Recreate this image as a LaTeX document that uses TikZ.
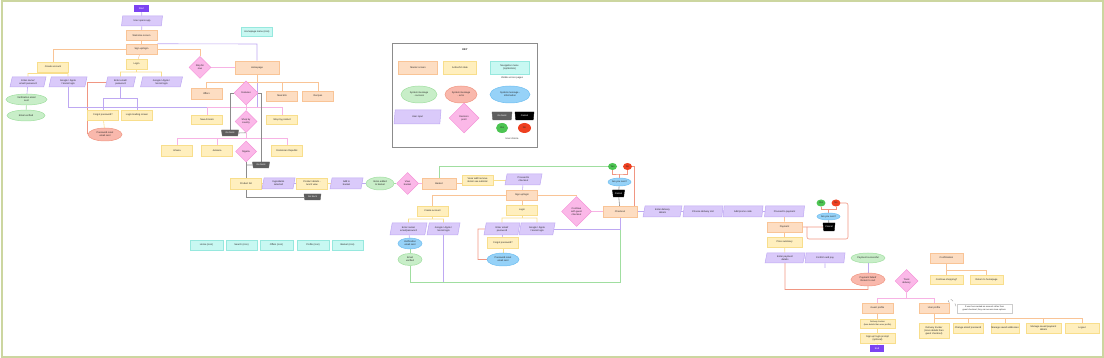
\documentclass[tikz,border=0pt]{standalone}
\usepackage{fontspec}
\setmainfont{Liberation Sans}
\usepackage{tikz}
\usetikzlibrary{shapes.geometric,positioning,calc,backgrounds}
\definecolor{peachfill}{RGB}{253,221,194}
\definecolor{peachline}{RGB}{249,196,150}
\definecolor{yellowfill}{RGB}{255,239,190}
\definecolor{yellowline}{RGB}{248,222,140}
\definecolor{cyanfill}{RGB}{200,248,242}
\definecolor{cyanline}{RGB}{150,232,222}
\definecolor{greenfill}{RGB}{200,238,200}
\definecolor{greenline}{RGB}{160,222,160}
\definecolor{redfill}{RGB}{249,184,172}
\definecolor{redline}{RGB}{240,150,130}
\definecolor{bluefill}{RGB}{150,210,248}
\definecolor{blueline}{RGB}{110,190,240}
\definecolor{purplefill}{RGB}{218,202,250}
\definecolor{purpleline}{RGB}{190,168,242}
\definecolor{pinkfill}{RGB}{251,184,232}
\definecolor{pinkline}{RGB}{244,146,216}
\definecolor{startfill}{RGB}{124,68,242}
\definecolor{framegreen}{RGB}{204,214,160}
\definecolor{yesgreen}{RGB}{76,196,82}
\definecolor{nored}{RGB}{238,64,32}
\definecolor{backgray}{RGB}{95,95,95}

\begin{document}
\begin{tikzpicture}[x=1pt, y=-1pt,
  every node/.style={font=\fontsize{2.4}{2.9}\selectfont, text=black!85, align=center, inner sep=0.5pt},
  screen/.style={draw=peachline, fill=peachfill, line width=0.5pt, minimum width=31pt, minimum height=10pt},
  uistate/.style={screen, draw=yellowline, fill=yellowfill},
  navmenu/.style={screen, draw=cyanline, fill=cyanfill},
  userinput/.style={trapezium, trapezium left angle=70, trapezium right angle=110, trapezium stretches body,
    draw=purpleline, fill=purplefill, line width=0.5pt, minimum width=37pt, minimum height=10pt},
  decision/.style={diamond, aspect=1, draw=pinkline, fill=pinkfill, line width=0.5pt, minimum size=22pt, inner sep=0pt},
  msgok/.style={ellipse, draw=greenline, fill=greenfill, line width=0.5pt, minimum width=36pt, minimum height=11pt, inner sep=0pt},
  msgerr/.style={msgok, draw=redline, fill=redfill},
  msginfo/.style={msgok, draw=blueline, fill=bluefill},
  gobackbtn/.style={trapezium, trapezium left angle=65, trapezium right angle=65, shape border rotate=180,
    trapezium stretches body, fill=backgray, draw=backgray, text=white, minimum width=17pt, minimum height=6pt, inner sep=0pt},
  cancelbtn/.style={gobackbtn, fill=black, draw=black},
  yesbtn/.style={ellipse, fill=yesgreen, minimum width=9pt, minimum height=7pt, inner sep=0pt},
  nobtn/.style={yesbtn, fill=nored},
  terminal/.style={fill=startfill, text=white, minimum width=15pt, minimum height=7pt},
  lpeach/.style={draw=peachline, line width=0.6pt},
  lyellow/.style={draw=yellowline, line width=0.6pt},
  lpurple/.style={draw=purpleline, line width=0.6pt},
  lpink/.style={draw=pinkline!70, line width=0.6pt},
  lgreen/.style={draw=greenline, line width=0.6pt},
  lred/.style={draw=redline, line width=0.6pt},
  lgray/.style={draw=black!45, line width=0.6pt}]

\useasboundingbox (0,0) rectangle (1104,358);
\draw[framegreen, line width=2pt] (1.5,1.5) rectangle (1102.5,356.5);

% onboarding
\node[terminal] (start) at (141.5,8.5) {Start};
\node[userinput, minimum width=41pt] (opens) at (142,21) {User opens app};
\node[screen] (welcome) at (141.5,35.5) {Welcome screen};
\node[screen] (signup) at (141.5,49) {Sign up/login};
\node[uistate, minimum width=21pt] (login) at (136.5,64) {Login};
\node[uistate] (create) at (53,67) {Create account};
\node[userinput, minimum width=36pt] (name) at (28,82) {Enter name/\\ email/ password};
\node[userinput, minimum width=38pt] (gsign) at (68,82) {Google / Apple\\ / Social login};
\node[msgok, minimum width=41pt] (verify) at (26.5,99.5) {Verification email\\ sent};
\node[msgok, minimum width=38pt] (verified) at (26,115.5) {Email verified};
\node[userinput, minimum width=30pt] (email) at (120.5,82) {Enter email/\\ password};
\node[userinput, minimum width=42pt] (glogin) at (161.5,82) {Google / Apple /\\ Social login};
\node[uistate] (forgot) at (103,115) {Forgot password?};
\node[uistate] (loading) at (137,115) {Login loading screen};
\node[msgerr, minimum width=34pt, minimum height=13pt] (reset) at (105,134.5) {Password reset\\ email sent};

% homepage and browsing
\node[navmenu, minimum height=9pt] (homemenu) at (257,31.5) {Homepage menu (icon)};
\node[decision] (skip) at (200,67.5) {Skip for\\ now};
\node[screen, minimum width=44pt, minimum height=13pt] (home) at (257,67.5) {Homepage};
\node[screen, minimum height=11pt] (offers) at (206.5,93.5) {Offers};
\node[decision, minimum size=24pt] (features) at (246,93) {Features};
\node[screen] (mealkits) at (282,96) {Meal kits};
\node[screen] (recipes) at (318,96) {Recipes};
\node[uistate, minimum height=9pt] (arrivals) at (207,119.5) {New Arrivals};
\node[decision] (country) at (246,121.5) {Shop by\\ country};
\node[uistate, minimum height=9pt] (byproduct) at (282,119.5) {Shop by product};
\node[gobackbtn] (back1) at (230,133) {Go back};
\node[uistate, minimum height=11pt] (ghana) at (177,150.5) {Ghana};
\node[uistate, minimum height=11pt] (jamaica) at (217,150.5) {Jamaica};
\node[decision, minimum size=21pt] (nigeria) at (246,151.5) {Nigeria};
\node[uistate, minimum height=11pt] (dominican) at (287,150.5) {Dominican Republic};
\node[gobackbtn] (back2) at (261,165) {Go back};
\node[uistate, minimum height=11pt] (plist) at (246,183.5) {Product list};
\node[userinput, minimum width=33pt, minimum height=11pt] (ingredients) at (278.5,183.5) {Ingredients\\ selected};
\node[uistate, minimum height=11pt] (details) at (312,183.5) {Product details -\\ lunch view};
\node[gobackbtn] (back3) at (312.5,197) {Go back};
\node[userinput, minimum width=33pt, minimum height=11pt] (addbasket) at (346.5,183.5) {Add to\\ basket};
\node[msgok, minimum width=28pt, minimum height=13pt] (added) at (380,183.5) {Items added\\ to basket};
\node[decision] (view) at (407.5,183.5) {View\\ basket};
\node[screen, minimum width=34pt, minimum height=11pt] (basket) at (439,183.5) {Basket};
\node[uistate] (subtotal) at (477.5,180.5) {View/ add/ remove\\ items/ see subtotal};
\node[userinput, minimum width=37pt, minimum height=11pt] (proceed) at (523.5,179.5) {Proceed to\\ checkout};

% basket sign up / login
\node[screen] (signup2) at (522,195) {Sign up/login};
\node[uistate] (login2) at (522,210) {Login};
\node[uistate] (create2) at (432.5,211) {Create account};
\node[userinput, minimum height=12pt] (name2) at (408.5,229) {Enter name/\\ email/password};
\node[userinput, minimum width=33pt, minimum height=12pt] (gsign2) at (443.5,229) {Google / Apple /\\ Social login};
\node[msginfo, minimum width=24pt] (verify2) at (410,243.5) {Verification\\ email sent};
\node[msgok, minimum width=24pt, minimum height=12pt] (verified2) at (410,259.5) {Email\\ verified};
\node[userinput, minimum width=36pt, minimum height=12pt] (email2) at (502,229) {Enter email/\\ password};
\node[userinput, minimum width=36pt, minimum height=12pt] (glogin2) at (537,229) {Google / Apple\\ / Social login};
\node[uistate, minimum height=11pt] (forgot2) at (503,242.5) {Forgot password?};
\node[msginfo, minimum width=32pt, minimum height=13pt] (reset2) at (503,259.5) {Password reset\\ email sent};
\node[decision, minimum size=30pt] (guest) at (576.5,211.5) {Continue\\ with guest\\ checkout};

% checkout
\node[screen, minimum width=34pt, minimum height=11pt] (checkout) at (620,211.5) {Checkout};
\node[yesbtn] (yes1) at (612.5,166.5) {Yes};
\node[nobtn] (no1) at (627.5,166.5) {No};
\node[msginfo, minimum width=23pt, minimum height=8pt] (sure1) at (619.5,182) {Are you sure?};
\node[cancelbtn, minimum width=12pt, minimum height=7pt] (cancel1) at (618.5,193.5) {Cancel};
\node[userinput, minimum width=39pt, minimum height=11pt] (delivery) at (662.5,211.5) {Enter delivery\\ details};
\node[userinput, minimum width=40pt, minimum height=11pt] (slot) at (703,211.5) {Choose delivery slot};
\node[userinput, minimum width=40pt, minimum height=11pt] (promo) at (743,211.5) {Add promo code};
\node[userinput, minimum width=40pt, minimum height=11pt] (topay) at (784.5,211.5) {Proceed to payment};
\node[screen, minimum width=35pt] (payment) at (784.5,227) {Payment};
\node[uistate, minimum width=35pt] (summary) at (784.5,242) {Price summary};
\node[userinput, minimum width=40pt] (paydetails) at (785,258) {Enter payment\\ details};
\node[userinput, minimum width=40pt] (confirm) at (825,258) {Confirm and pay};
\coordinate (confirmend) at (825,268);
\node[yesbtn] (yes2) at (821,203) {Yes};
\node[nobtn] (no2) at (836,203) {No};
\node[msginfo, minimum width=23pt, minimum height=7pt] (sure2) at (828.5,216.5) {Are you sure?};
\node[cancelbtn, minimum width=12pt, minimum height=8pt] (cancel2) at (829,227) {Cancel};
\node[msgok, minimum width=34pt, minimum height=10pt] (paid) at (868,258) {Payment successful};
\node[msgerr, minimum width=34pt, minimum height=13pt] (failed) at (868,279.5) {Payment failed/\\ Return to cart};

% after payment
\node[screen, minimum width=33pt] (confirmation) at (946.5,258) {Confirmation};
\node[uistate, minimum width=33pt, minimum height=9pt] (shopping) at (946.5,279.5) {Continue shopping?};
\node[uistate, minimum width=33pt, minimum height=9pt] (rethome) at (986.5,279.5) {Return to homepage};
\node[decision, minimum size=23pt] (track) at (906.5,281) {Track\\ delivery};
\node[screen] (gprofile) at (877.5,308) {Guest profile};
\node[screen, minimum width=30pt] (uprofile) at (934,308) {User profile};
\node[uistate, minimum width=35pt, minimum height=9pt, font=\fontsize{2.1}{2.6}\selectfont] (trackless) at (877.5,323.5) {Delivery tracker\\ (less details than user profile)};
\node[uistate, minimum width=35pt] (prompt) at (877.5,338) {Sign up/ login prompt\\ (optional)};
\node[terminal, minimum width=14pt] (endnode) at (877,348.5) {End};
\node[uistate, minimum width=30pt, minimum height=15pt] (trackmore) at (934,330.5) {Delivery tracker\\ (more details than\\ guest checkout)};
\node[uistate, minimum width=30pt] (chemail) at (968,328) {Change email/ password};
\node[uistate, minimum width=28pt] (addresses) at (1005,328) {Manage saved addresses};
\node[uistate, minimum width=35pt] (cards) at (1043.5,328) {Manage saved payment\\ details};
\node[uistate, minimum width=34pt] (logout) at (1082,328) {Logout};
\node[draw=black!20, line width=0.4pt, fill=white, minimum width=55pt, minimum height=9pt, font=\fontsize{2.1}{2.6}\selectfont] (note) at (984.5,308.5) {If user has created an account rather than\\ guest checkout, they can access more options.};

% navigation row
\node[navmenu, minimum width=33pt] (navhome) at (206.5,245) {Home (icon)};
\node[navmenu, minimum width=31pt] (navsearch) at (241.5,245) {Search (icon)};
\node[navmenu, minimum width=33pt] (navoffers) at (276.5,245) {Offers (icon)};
\node[navmenu, minimum width=32pt] (navprofile) at (313,245) {Profile (icon)};
\node[navmenu, minimum width=31pt] (navbasket) at (347.5,245) {Basket (icon)};

% key
\draw[black!45, line width=0.6pt] (392,43) rectangle (537,147);
\node[font=\bfseries\fontsize{2.6}{3}\selectfont] (keytitle) at (465,50) {KEY};
\node[screen, minimum width=39pt, minimum height=13pt] (kscreen) at (418,67.5) {Master screen};
\node[uistate, minimum width=33pt, minimum height=13pt] (kstate) at (460,67.5) {Action/UI state};
\node[navmenu, minimum width=39pt, minimum height=13pt] (knav) at (509.5,67.5) {Navigation menu\\ (top/bottom)};
\node (kvisible) at (512,78) {Visible across pages};
\node[msgok, minimum width=36pt, minimum height=17pt] (kok) at (419,94.5) {System message\\ - success};
\node[msgerr, minimum width=32pt, minimum height=17pt] (kerr) at (461,94.5) {System message\\ - error};
\node[msginfo, minimum width=40pt, minimum height=17pt] (kinfo) at (510,94.5) {System message -\\ information};
\node[userinput, minimum width=47pt, minimum height=14pt] (kinput) at (417.5,117) {User input};
\node[decision, minimum size=30pt] (kdecision) at (464,118) {Decision\\ point};
\node[gobackbtn, minimum width=20pt, minimum height=8pt] (kback) at (502,116) {Go back};
\node[cancelbtn, minimum width=19pt, minimum height=8pt] (kcancel) at (524.5,116) {Cancel};
\node[yesbtn, minimum width=12pt, minimum height=10pt] (kyes) at (502,128) {Yes};
\node[nobtn, minimum width=13pt, minimum height=10pt] (kno) at (524.5,128) {No};
\node (kchoice) at (512,139) {User choice};

\begin{scope}[on background layer]
  % onboarding links
  \draw[lpurple] (start) -- (opens);
  \draw[lpurple] (opens) -- (welcome);
  \draw[lpeach] (welcome) -- (signup);
  \draw[lpeach] (signup) -- (login);
  \draw[lpeach] (signup.west) -| (create.north);
  \draw[lyellow] (create.south) -- (53,73.5);
  \draw[lyellow] (name.north) |- (68,73.5) -- (gsign.north);
  \draw[lpurple] (name) -- (verify);
  \draw[lgreen] (verify) -- (verified);
  \draw[lyellow] (login.south) -- (136.5,72);
  \draw[lyellow] (email.north) |- (161.5,72) -- (glogin.north);
  \draw[lpurple] (email.south) -- (120.5,98);
  \draw[lpurple] (forgot.north) |- (137,98) -- (loading.north);
  \draw[lyellow] (forgot) -- (reset);
  \draw[lred] (email.west) -| (reset.west);
  \draw[lpurple] (gsign.south) |- (257,107) -- (home.south);
  \draw[lpurple] (signup.north east) -- (257,44) -- (home.north);
  \draw[lpeach] (signup.east) -| (skip.north);
  \draw[lpink] (skip) -- (home);
  % browsing links
  \draw[lpeach] (home.south) -- (257,82);
  \draw[lpeach] (offers.north) -- (206.5,82) -- (318,82) -- (recipes.north);
  \draw[lpeach] (mealkits.north) -- (282,82);
  \draw[lpink] (features) -- (country);
  \draw[lpink] (arrivals.north) |- (282,107) -- (byproduct.north);
  \draw[lpink] (country.south) -- (246,138);
  \draw[lpink] (ghana.north) |- (287,138) -- (dominican.north);
  \draw[lpink] (jamaica.north) -- (217,138);
  \draw[lgray] (back1.north) |- (features.west);
  \draw[lgray] (back1.east) -- (country.south);
  \draw[lgray] (back2.north) |- (features.east);
  \draw[lgray] (back2.west) -- (246,165);
  \draw[lgray] (nigeria) -- (plist);
  \draw[lgray] (plist.south) |- (back3.west);
  \draw[lyellow] (plist) -- (ingredients);
  \draw[lpurple] (ingredients) -- (details);
  \draw[lyellow] (details) -- (addbasket);
  \draw[lpurple] (addbasket) -- (added);
  \draw[lgreen] (added) -- (view);
  \draw[lpink] (view) -- (basket);
  \draw[lpeach] (basket.east) -- (basket.east -| subtotal.west);
  \draw[lyellow] (subtotal.east) -- (subtotal.east -| proceed.west);
  % basket login links
  \draw[lpurple] (proceed) -- (signup2);
  \draw[lpeach] (signup2.west) -| (create2.north);
  \draw[lpeach] (signup2.east) -| (guest.north);
  \draw[lpeach] (signup2) -- (login2);
  \draw[lyellow] (login2.south) -- (522,218);
  \draw[lyellow] (email2.north) |- (537,218) -- (glogin2.north);
  \draw[lyellow] (create2.south) -- (432.5,219);
  \draw[lyellow] (name2.north) |- (443.5,219) -- (gsign2.north);
  \draw[lpurple] (name2) -- (verify2);
  \draw[lgreen] (verify2) -- (verified2);
  \draw[lgreen] (verified2.south) |- (620,282) -- (checkout.south);
  \draw[lpurple] (gsign2.south) -- (443.5,282);
  \draw[lpurple] (glogin2.east) -| (checkout.south);
  \draw[lpurple] (email2) -- (forgot2);
  \draw[lyellow] (forgot2) -- (reset2);
  \draw[lred] (email2.west) -- (478,229) |- (reset2.west);
  \draw[lpink] (guest) -- (checkout);
  % checkout links
  \draw[lgreen] (yes1.west) -| (basket.north);
  \draw[lred] (no1.east) -| ($(checkout.north east)+(-3,0)$);
  \draw[lred] (yes1.south) |- (619.5,174) -| (no1.south);
  \draw[lred] (619.5,174) -- (sure1.north);
  \draw[lgray] (sure1) -- (cancel1);
  \draw[lgray] (cancel1) -- (checkout);
  \draw[lpurple] (checkout) -- (delivery);
  \draw[lpurple] (delivery) -- (slot);
  \draw[lpurple] (slot) -- (promo);
  \draw[lpurple] (promo) -- (topay);
  \draw[lpeach] (topay) -- (payment);
  \draw[lpeach] (payment) -- (summary);
  \draw[lyellow] (summary) -- (paydetails);
  \draw[lpurple] (paydetails) -- (confirm);
  \draw[lred] (payment.east) -- (cancel2.west);
  \draw[lgray] (cancel2) -- (sure2);
  \draw[lred] (yes2.south) |- (828.5,209.5) -| (no2.south);
  \draw[lred] (828.5,209.5) -- (sure2.north);
  \draw[lred, rounded corners=2pt] (no2.east) -- (848,203) -- (848,239) -- (807,239) -- (807,227);
  \draw[lpurple] (confirm.south) -- (confirmend);
  \draw[lpurple] (paid) -- (failed);
  \draw[lred] (failed.south) |- (785,289.5) -- (paydetails.south);
  % delivery and profile links
  \draw[lpeach] (confirmation) -- (shopping);
  \draw[lpeach] (confirmation.south) |- (986.5,270) -- (rethome.north);
  \draw[lpink] (track.south) -- (906.5,298);
  \draw[lpink] (gprofile.north) |- (934,298) -- (uprofile.north);
  \draw[lpeach] (gprofile) -- (trackless);
  \draw[lyellow] (trackless) -- (prompt);
  \draw[lyellow] (prompt) -- (endnode);
  \draw[lpeach] (uprofile) -- (trackmore);
  \draw[lpeach] (uprofile.south) -- (934,318) -- (1082,318) -- (logout.north);
  \draw[lpeach] (chemail.north) -- (968,318);
  \draw[lpeach] (addresses.north) -- (1005,318);
  \draw[lpeach] (cards.north) -- (1043.5,318);
  \draw[black!40, dashed, line width=0.4pt] (uprofile.north east) .. controls (945,297) and (954,297) .. (note.west);
\end{scope}
\end{tikzpicture}
\end{document}
